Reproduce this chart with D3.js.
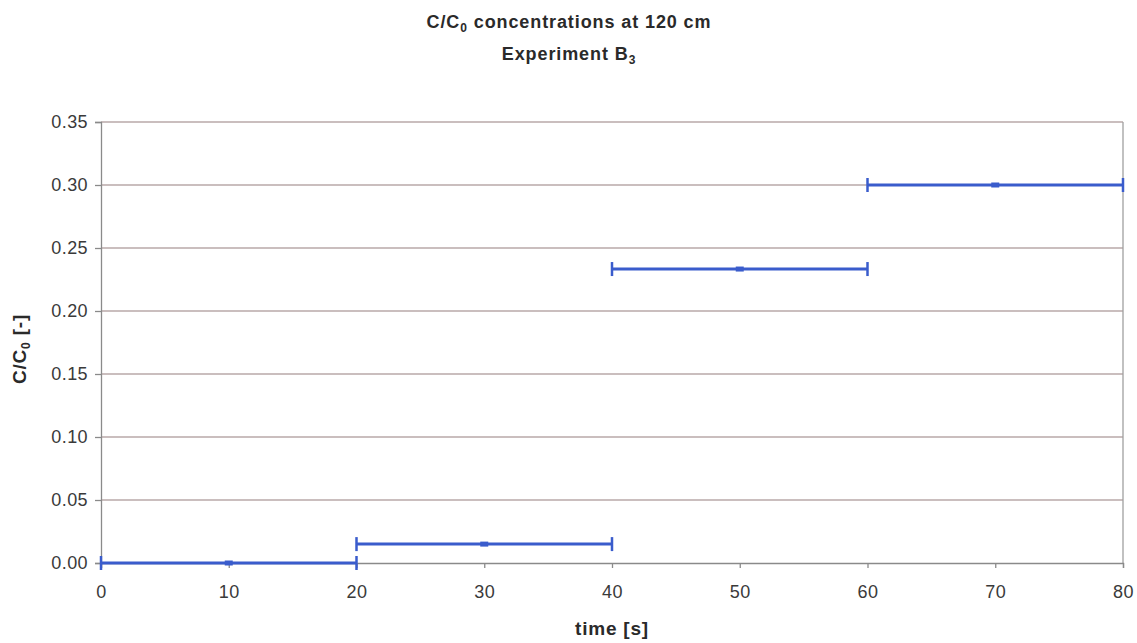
<!DOCTYPE html>
<html>
<head>
<meta charset="utf-8">
<script src="https://cdn.jsdelivr.net/npm/d3@7"></script>
<style>
  body { margin: 0; background: #ffffff; }
  svg { display: block; font-family: "Liberation Sans", Arial, sans-serif; }
</style>
</head>
<body>
<svg id="chart" width="1137" height="643"></svg>
<script>
// Mean concentrations per 20 s sampling interval
const times = [10, 30, 50, 70];
const ratios = [0.0, 0.015, 0.2333, 0.30];
const halfWidths = [10, 10, 10, 10];
const xTicks = [0, 10, 20, 30, 40, 50, 60, 70, 80];
const yTicks = [0, 0.05, 0.10, 0.15, 0.20, 0.25, 0.30, 0.35];

const svg = d3.select("#chart");
const margin = { left: 101, right: 1137 - 1123, top: 122, bottom: 643 - 563 };
const W = 1137, H = 643;

const x = d3.scaleLinear().domain([0, 80]).range([margin.left, W - margin.right]);
const y = d3.scaleLinear().domain([0, 0.35]).range([H - margin.bottom, margin.top]);

// Horizontal gridlines
svg.append("g")
  .selectAll("line")
  .data(yTicks.slice(1))
  .join("line")
  .attr("x1", x(0)).attr("x2", x(80))
  .attr("y1", d => y(d)).attr("y2", d => y(d))
  .attr("stroke", "#b9a9a9")
  .attr("stroke-width", 1.3);

// Plot frame (right side)
svg.append("line")
  .attr("x1", x(80)).attr("x2", x(80))
  .attr("y1", y(0.35)).attr("y2", y(0))
  .attr("stroke", "#a0a0a0").attr("stroke-width", 1.3);

// Axes
const yAxis = d3.axisLeft(y).tickValues(yTicks).tickFormat(d3.format(".2f")).tickSize(6).tickPadding(7);
const xAxis = d3.axisBottom(x).tickValues(xTicks).tickFormat(d3.format("d")).tickSize(5).tickPadding(17);

const gy = svg.append("g").attr("transform", `translate(${x(0)},0)`).call(yAxis);
const gx = svg.append("g").attr("transform", `translate(0,${y(0)})`).call(xAxis);

[gx, gy].forEach(g => {
  g.attr("font-size", null).attr("font-family", null);
  g.select(".domain").attr("stroke", "#8a8a8a").attr("stroke-width", 1.3);
  g.selectAll(".tick line").attr("stroke", "#8a8a8a").attr("stroke-width", 1.3);
  g.selectAll(".tick text")
    .attr("fill", "#3a3a3a")
    .style("font-size", "18px")
    .style("letter-spacing", "0.4px")
    .style("font-family", "'Liberation Sans', Arial, sans-serif");
});

// Horizontal error bars
const color = "#3a5ccc";
const bars = svg.append("g");
const capH = 7;
times.forEach((t, i) => {
  const yy = y(ratios[i]);
  const x0 = x(t - halfWidths[i]);
  const x1 = x(t + halfWidths[i]);
  bars.append("line")
    .attr("x1", x0).attr("x2", x1).attr("y1", yy).attr("y2", yy)
    .attr("stroke", color).attr("stroke-width", 3);
  [x0, x1].forEach(cx => {
    bars.append("line")
      .attr("x1", cx).attr("x2", cx).attr("y1", yy - capH).attr("y2", yy + capH)
      .attr("stroke", color).attr("stroke-width", 2.5);
  });
  bars.append("rect")
    .attr("x", x(t) - 4).attr("y", yy - 2.5)
    .attr("width", 8).attr("height", 5)
    .attr("fill", color);
});

// Title
const title = svg.append("text")
  .attr("x", 569).attr("y", 28)
  .attr("text-anchor", "middle")
  .attr("fill", "#2a2a2a")
  .style("font-size", "18px").style("font-weight", "bold").style("letter-spacing", "0.9px");
title.append("tspan").text("C/C");
title.append("tspan").text("0").attr("dy", 4).style("font-size", "12px");
title.append("tspan").text(" concentrations at 120 cm").attr("dy", -4);

const title2 = svg.append("text")
  .attr("x", 569).attr("y", 60)
  .attr("text-anchor", "middle")
  .attr("fill", "#2a2a2a")
  .style("font-size", "18px").style("font-weight", "bold").style("letter-spacing", "0.9px");
title2.append("tspan").text("Experiment B");
title2.append("tspan").text("3").attr("dy", 4).style("font-size", "12px");

// Axis titles
svg.append("text")
  .attr("x", x(40)).attr("y", 635)
  .attr("text-anchor", "middle")
  .attr("fill", "#2a2a2a")
  .style("font-size", "19px").style("font-weight", "bold").style("letter-spacing", "0.8px")
  .text("time [s]");

const yl = svg.append("text")
  .attr("transform", `translate(26,349) rotate(-90)`)
  .attr("text-anchor", "middle")
  .attr("fill", "#2a2a2a")
  .style("font-size", "19px").style("font-weight", "bold").style("letter-spacing", "0.8px");
yl.append("tspan").text("C/C");
yl.append("tspan").text("0").attr("dy", 4).style("font-size", "12px");
yl.append("tspan").text(" [-]").attr("dy", -4);
</script>
</body>
</html>
